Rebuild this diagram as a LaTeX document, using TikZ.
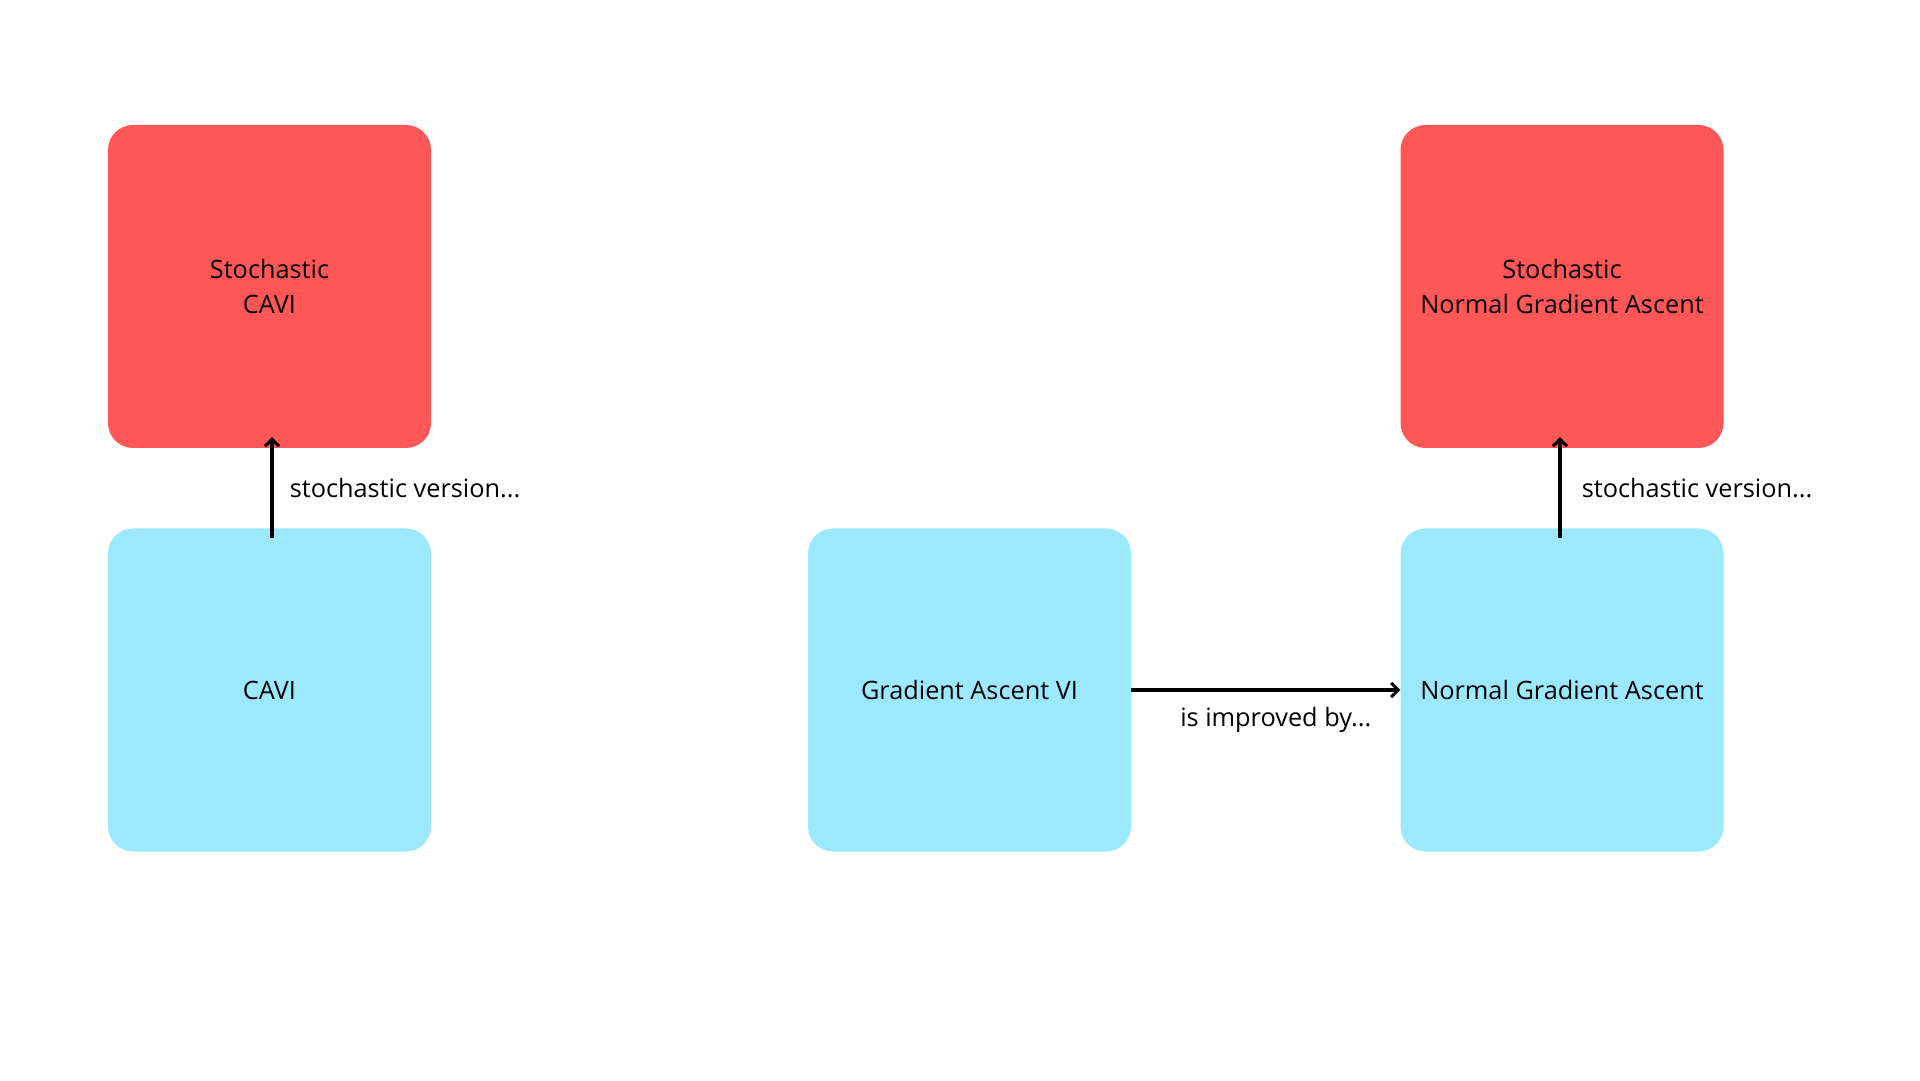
\documentclass[tikz,border=0pt]{standalone}
\usepackage{fontspec}
\setmainfont{Open Sans}
\usetikzlibrary{arrows.meta}
\definecolor{stochred}{HTML}{FF5757}
\definecolor{methodblue}{HTML}{9CE8FF}
\tikzset{
  box/.style={rectangle, rounded corners=25pt, minimum width=323pt,
    minimum height=323pt, inner sep=0pt, align=center},
  link/.style={line width=3.5pt, -{Straight Barb[length=7pt, width=14pt, line width=3pt]}},
}
\begin{document}
\begin{tikzpicture}[x=1pt, y=1pt, font=\fontsize{25.3}{35.5}\selectfont]
      \useasboundingbox (0,0) rectangle (1920,1080);
      \draw
        (269.5,793.5) node[box, fill=stochred] (scavi){Stochastic\\CAVI}
        (269.5,390) node[box, fill=methodblue] (cavi){CAVI}
        (969.5,390) node[box, fill=methodblue] (gavi){Gradient Ascent VI}
        (1562,390) node[box, fill=methodblue] (nga){Normal Gradient Ascent}
        (1562,793.5) node[box, fill=stochred] (snga){Stochastic\\Normal Gradient Ascent};
      \begin{scope}[link]
        \draw ([shift={(2.5pt,-10pt)}]cavi.north) to
          node[midway, anchor=west, inner sep=0pt, xshift=16pt] (lcavi){stochastic version...}
          ([shift={(2.5pt,11pt)}]scavi.south);
        \draw ([shift={(-2pt,-10pt)}]nga.north) to
          node[midway, anchor=west, inner sep=0pt, xshift=20pt] (lnga){stochastic version...}
          ([shift={(-2pt,11pt)}]snga.south);
        \draw (gavi.east) to
          node[midway, inner sep=0pt, xshift=10pt, yshift=-30pt] (lgavi){is improved by...} (nga.west);
      \end{scope}
    \end{tikzpicture}
\end{document}
